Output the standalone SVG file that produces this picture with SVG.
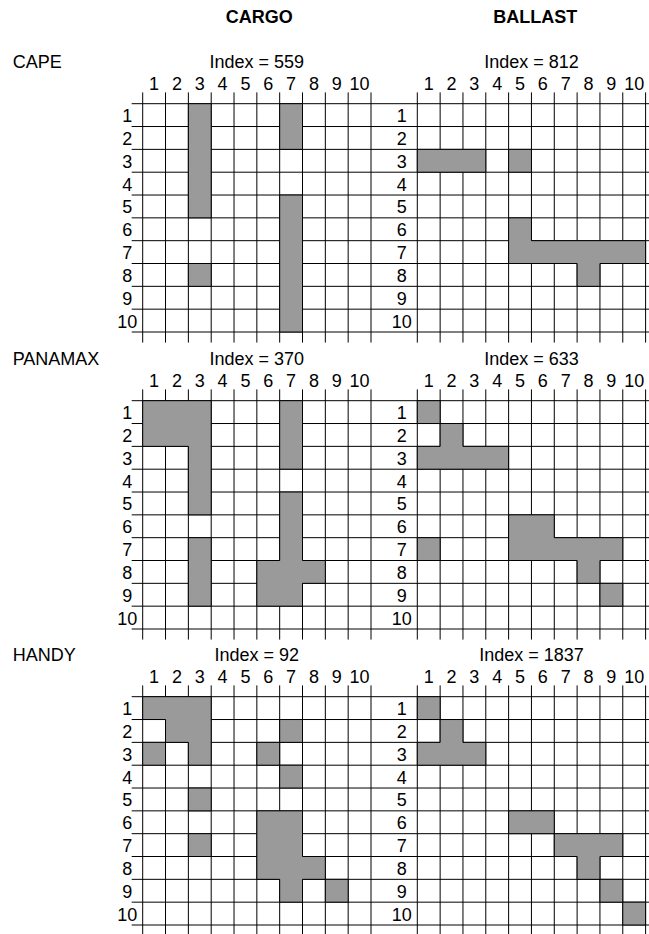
<svg xmlns="http://www.w3.org/2000/svg" width="649" height="934" viewBox="0 0 649 934">
<style>
text{font-family:"Liberation Sans",Arial,Helvetica,sans-serif;font-size:18px;fill:#000}
.hd{font-weight:bold;text-anchor:middle}
.c{text-anchor:middle}
.ln{fill:none;stroke:#000;stroke-width:1}
.sh{fill:#9a9a9a;stroke:#000;stroke-width:1}
</style>
<defs>
<path id="vgrid" class="ln" vector-effect="non-scaling-stroke" d="M0 -0.495V10.464M1 -0.495V10.464M2 -0.495V10.464M3 -0.495V10.464M4 -0.495V10.464M5 -0.495V10.464M6 -0.495V10.464M7 -0.495V10.464M8 -0.495V10.464M9 -0.495V10.464M10 -0.495V10.464"/>
<path id="hgrid" class="ln" vector-effect="non-scaling-stroke" d="M131.7 0H660M131.7 1H660M131.7 2H660M131.7 3H660M131.7 4H660M131.7 5H660M131.7 6H660M131.7 7H660M131.7 8H660M131.7 9H660M131.7 10H660"/>
<g id="collabels">
<text class="c" x="11.42" y="-13.7">1</text><text class="c" x="34.25" y="-13.7">2</text><text class="c" x="57.08" y="-13.7">3</text><text class="c" x="79.91" y="-13.7">4</text><text class="c" x="102.74" y="-13.7">5</text><text class="c" x="125.57" y="-13.7">6</text><text class="c" x="148.4" y="-13.7">7</text><text class="c" x="171.23" y="-13.7">8</text><text class="c" x="194.06" y="-13.7">9</text><text class="c" x="216.89" y="-13.7">10</text>
</g>
<g id="rowlabels">
<text class="c" x="-15.5" y="18.43">1</text><text class="c" x="-15.5" y="41.26">2</text><text class="c" x="-15.5" y="64.09">3</text><text class="c" x="-15.5" y="86.92">4</text><text class="c" x="-15.5" y="109.75">5</text><text class="c" x="-15.5" y="132.58">6</text><text class="c" x="-15.5" y="155.41">7</text><text class="c" x="-15.5" y="178.24">8</text><text class="c" x="-15.5" y="201.07">9</text><text class="c" x="-15.5" y="223.9">10</text>
</g>
</defs>

<g id="headers">
<text class="hd" x="259.3" y="22.7">CARGO</text>
<text class="hd" x="535.3" y="22.7">BALLAST</text>
</g>

<g id="row-titles">
<text x="12.7" y="68.3">CAPE</text>
<text x="12.7" y="365.3">PANAMAX</text>
<text x="12.7" y="661.3">HANDY</text>
</g>

<g id="horizontal-lines">
<g transform="translate(0,103.7) scale(1,22.83)"><use href="#hgrid"/></g>
<g transform="translate(0,400.7) scale(1,22.83)"><use href="#hgrid"/></g>
<g transform="translate(0,696.7) scale(1,22.83)"><use href="#hgrid"/></g>
</g>

<g id="cape-cargo" transform="translate(142.7,103.7)">
<g transform="scale(22.83)">
<use href="#vgrid"/>
<path class="sh" vector-effect="non-scaling-stroke" d="M2 0H3V5H2Z M6 0H7V2H6Z M6 4H7V10H6Z M2 7H3V8H2Z"/>
</g>
<text class="c" x="114.15" y="-35.4">Index = 559</text>
<use href="#collabels"/><use href="#rowlabels"/>
</g>

<g id="cape-ballast" transform="translate(417.3,103.7)">
<g transform="scale(22.83)">
<use href="#vgrid"/>
<path class="sh" vector-effect="non-scaling-stroke" d="M0 2H3V3H0Z M4 2H5V3H4Z M4 5H5V6H10V7H8V8H7V7H4Z"/>
</g>
<text class="c" x="114.15" y="-35.4">Index = 812</text>
<use href="#collabels"/><use href="#rowlabels"/>
</g>

<g id="panamax-cargo" transform="translate(142.7,400.7)">
<g transform="scale(22.83)">
<use href="#vgrid"/>
<path class="sh" vector-effect="non-scaling-stroke" d="M0 0H3V5H2V2H0Z M6 0H7V3H6Z M2 6H3V9H2Z M6 4H7V7H8V8H7V9H5V7H6Z"/>
</g>
<text class="c" x="114.15" y="-35.4">Index = 370</text>
<use href="#collabels"/><use href="#rowlabels"/>
</g>

<g id="panamax-ballast" transform="translate(417.3,400.7)">
<g transform="scale(22.83)">
<use href="#vgrid"/>
<path class="sh" vector-effect="non-scaling-stroke" d="M0 0H1V1H0Z M1 1H2V2H4V3H0V2H1Z M4 5H6V6H9V7H8V8H7V7H4Z M8 8H9V9H8Z M0 6H1V7H0Z"/>
</g>
<text class="c" x="114.15" y="-35.4">Index = 633</text>
<use href="#collabels"/><use href="#rowlabels"/>
</g>

<g id="handy-cargo" transform="translate(142.7,696.7)">
<g transform="scale(22.83)">
<use href="#vgrid"/>
<path class="sh" vector-effect="non-scaling-stroke" d="M0 0H3V3H2V2H1V1H0Z M0 2H1V3H0Z M6 1H7V2H6Z M5 2H6V3H5Z M6 3H7V4H6Z M2 4H3V5H2Z M2 6H3V7H2Z M5 5H7V7H8V8H7V9H6V8H5Z M8 8H9V9H8Z"/>
</g>
<text class="c" x="114.15" y="-35.4">Index = 92</text>
<use href="#collabels"/><use href="#rowlabels"/>
</g>

<g id="handy-ballast" transform="translate(417.3,696.7)">
<g transform="scale(22.83)">
<use href="#vgrid"/>
<path class="sh" vector-effect="non-scaling-stroke" d="M0 0H1V1H0Z M1 1H2V2H3V3H0V2H1Z M4 5H6V6H4Z M6 6H9V7H8V8H7V7H6Z M8 8H9V9H8Z M9 9H10V10H9Z"/>
</g>
<text class="c" x="114.15" y="-35.4">Index = 1837</text>
<use href="#collabels"/><use href="#rowlabels"/>
</g>
</svg>
